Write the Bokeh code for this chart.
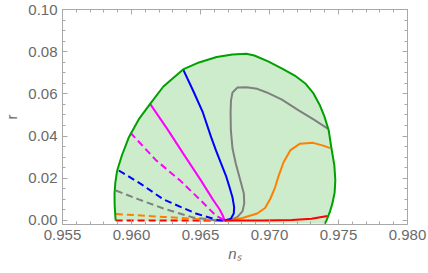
import math
from bokeh.plotting import figure
from bokeh.models import (LinearAxis, FixedTicker, PrintfTickFormatter, Range1d,
                          CustomLabelingPolicy)
from bokeh.embed import file_html
from bokeh.resources import INLINE

# ---------------- data ----------------
x_ticks = [0.955, 0.960, 0.965, 0.970, 0.975, 0.980]
x_minor = [round(0.955 + 0.001 * i, 3) for i in range(26)]
y_ticks = [0.00, 0.02, 0.04, 0.06, 0.08, 0.10]
y_minor = [round(0.005 * i, 3) for i in range(21)]
x_title = "n\u209b"
y_title = "r"

green_x = [0.95885, 0.95878, 0.95877, 0.95883, 0.95896, 0.95930, 0.95980, 0.96052,
           0.96135, 0.96231, 0.96374, 0.96489, 0.96617, 0.96732, 0.96832, 0.96890,
           0.96990, 0.97095, 0.97183, 0.97262, 0.97319, 0.97362, 0.97398, 0.97429,
           0.97448, 0.97470, 0.97477, 0.97472, 0.97456, 0.97436, 0.97413, 0.97400]
green_y = [0.0000, 0.0071, 0.0128, 0.0180, 0.0236, 0.0308, 0.0393, 0.0479,
           0.0553, 0.0635, 0.0716, 0.0749, 0.0775, 0.0787, 0.0790, 0.0782,
           0.0754, 0.0719, 0.0687, 0.0648, 0.0602, 0.0550, 0.0493, 0.0427,
           0.0346, 0.0261, 0.0190, 0.0133, 0.0081, 0.0038, 0.0000, -0.0016]

blue_x = [0.96374, 0.96446, 0.96517, 0.96577, 0.96612, 0.96646, 0.96684, 0.96713,
          0.96732, 0.96744, 0.96741, 0.96720, 0.96675]
blue_y = [0.0716, 0.0616, 0.0512, 0.0395, 0.0332, 0.0275, 0.0213, 0.0152,
          0.0109, 0.0062, 0.0033, 0.0008, 0.0000]

magenta_x = [0.96135, 0.96266, 0.96374, 0.96503, 0.96589, 0.96639, 0.96661, 0.96675]
magenta_y = [0.0553, 0.0427, 0.0318, 0.0190, 0.0100, 0.0052, 0.0024, 0.0000]

gray_x = [0.96675, 0.96718, 0.96768, 0.96804, 0.96817, 0.96814, 0.96789, 0.96756,
          0.96732, 0.96720, 0.96718, 0.96721, 0.96732, 0.96768, 0.96832, 0.96911,
          0.96976, 0.97090, 0.97214, 0.97319, 0.97422]
gray_y = [0.0000, 0.0002, 0.0017, 0.0043, 0.0081, 0.0128, 0.0190, 0.0269,
          0.0341, 0.0427, 0.0512, 0.0569, 0.0607, 0.0630, 0.0632, 0.0624,
          0.0608, 0.0573, 0.0521, 0.0479, 0.0435]

orange_x = [0.96675, 0.96732, 0.96804, 0.96911, 0.96968, 0.97006, 0.97040, 0.97067,
            0.97102, 0.97150, 0.97221, 0.97317, 0.97389, 0.97441]
orange_y = [0.0000, 0.0002, 0.0012, 0.0033, 0.0059, 0.0103, 0.0156, 0.0213,
            0.0276, 0.0332, 0.0364, 0.0368, 0.0355, 0.0343]

red_x = [0.96675, 0.96947, 0.97162, 0.97305, 0.97420]
red_y = [0.0000, 0.0000, 0.0002, 0.0008, 0.0021]

magenta_d_x = [0.95992, 0.96180, 0.96352, 0.96517, 0.96610, 0.96675]
magenta_d_y = [0.0416, 0.0284, 0.0190, 0.0085, 0.0024, 0.0000]

blue_d_x = [0.95908, 0.96073, 0.96231, 0.96467, 0.96625, 0.96675]
blue_d_y = [0.0237, 0.0171, 0.0100, 0.0033, 0.0002, 0.0000]

gray_d_x = [0.95887, 0.96052, 0.96231, 0.96446, 0.96625, 0.96675]
gray_d_y = [0.0142, 0.0100, 0.0057, 0.0014, 0.0000, 0.0000]

orange_d_x = [0.95887, 0.96231, 0.96625, 0.96675]
orange_d_y = [0.0031, 0.0017, 0.0001, 0.0000]

red_d_x = [0.95885, 0.96675]
red_d_y = [0.0000, 0.0000]

# ---------------- styling ----------------
GREEN = "#00a000"
FRAME = "#a8a8a8"
LABEL = "#6a6a6a"
FONT = "Liberation Sans"
DASH = "7 4"
LW = 2

p = figure(width=428, height=273, output_backend="svg", toolbar_location=None,
           x_range=Range1d(0.955, 0.980), y_range=Range1d(-0.0019, 0.100),
           min_border_left=58, min_border_right=21, min_border_top=9,
           min_border_bottom=49, x_axis_type=None, y_axis_type=None)
p.outline_line_color = None
p.xgrid.visible = False
p.ygrid.visible = False
p.background_fill_color = "white"
p.border_fill_color = "white"

def style_axis(ax, show_labels, xdir):
    ax.ticker = FixedTicker(ticks=x_ticks if xdir else y_ticks,
                            minor_ticks=x_minor if xdir else y_minor)
    ax.formatter = PrintfTickFormatter(format="%.3f" if xdir else "%.2f")
    ax.axis_line_color = FRAME
    ax.axis_line_width = 1
    ax.major_tick_line_color = FRAME
    ax.minor_tick_line_color = FRAME
    ax.major_tick_in = 5
    ax.major_tick_out = 0
    ax.minor_tick_in = 3
    ax.minor_tick_out = 0
    if show_labels:
        ax.major_label_text_font = FONT
        ax.major_label_text_font_size = "15px"
        ax.major_label_text_color = LABEL
        ax.major_label_standoff = 5
        ax.axis_label_text_font = FONT
        ax.axis_label_text_font_size = "15px"
        ax.axis_label_text_color = LABEL
    else:
        ax.major_label_text_font_size = "1px"
        ax.major_label_standoff = 0
        ax.major_label_policy = CustomLabelingPolicy(code="return []")

xb = LinearAxis(axis_label=x_title); style_axis(xb, True, True)
xb.axis_label_text_font_style = "italic"
xb.axis_label_standoff = 2
p.add_layout(xb, "below")
xt = LinearAxis(); style_axis(xt, False, True); p.add_layout(xt, "above")
yl = LinearAxis(axis_label=y_title); style_axis(yl, True, False)
yl.axis_label_text_font_style = "normal"
yl.axis_label_standoff = 5
p.add_layout(yl, "left")
yr = LinearAxis(); style_axis(yr, False, False); p.add_layout(yr, "right")

# region
p.patch(green_x, green_y, fill_color=GREEN, fill_alpha=0.2, line_color=None)

# dashed curves
p.line(red_d_x, red_d_y, line_color="#ff0000", line_width=LW, line_dash=DASH)
p.line(orange_d_x, orange_d_y, line_color="#ff8000", line_width=LW, line_dash=DASH)
p.line(gray_d_x, gray_d_y, line_color="#808080", line_width=LW, line_dash=DASH)
p.line(blue_d_x, blue_d_y, line_color="#0000ff", line_width=LW, line_dash=DASH)
p.line(magenta_d_x, magenta_d_y, line_color="#ff00ff", line_width=LW, line_dash=DASH)

# solid curves
p.line(gray_x, gray_y, line_color="#808080", line_width=LW)
p.line(orange_x, orange_y, line_color="#ff8000", line_width=LW)
p.line(magenta_x, magenta_y, line_color="#ff00ff", line_width=LW)
p.line(blue_x, blue_y, line_color="#0000ff", line_width=LW)
p.line(red_x, red_y, line_color="#ff0000", line_width=LW)

# boundary
p.line(green_x, green_y, line_color=GREEN, line_width=LW)

open("out.html", "w").write(file_html(p, INLINE))
